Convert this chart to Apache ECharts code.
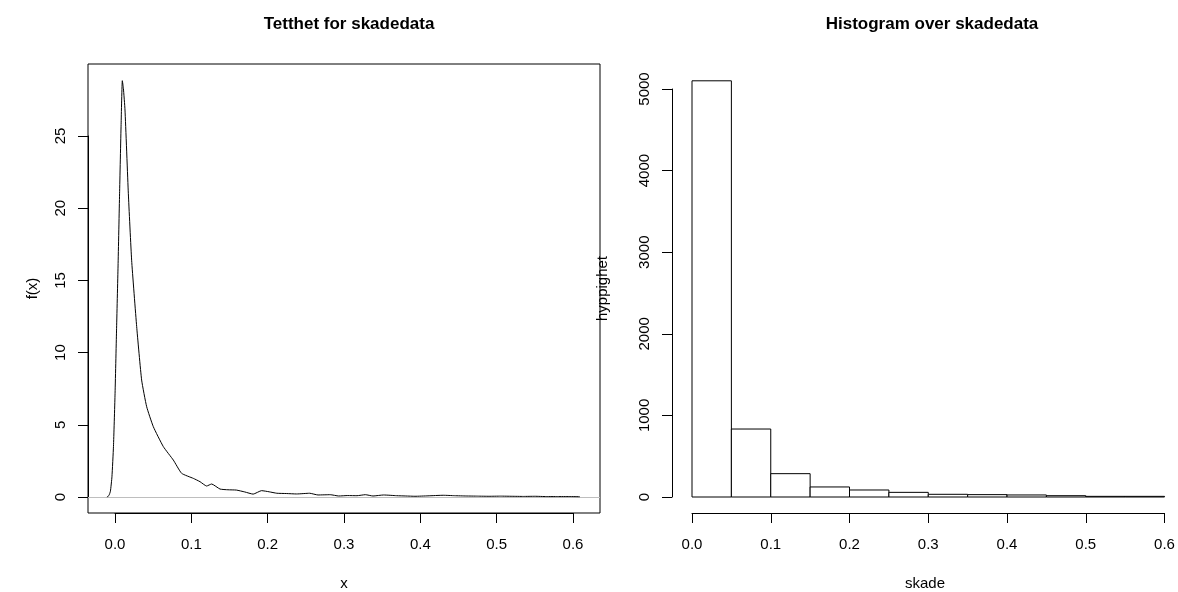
<!DOCTYPE html>
<html><head><meta charset="utf-8">
<script src="https://cdn.jsdelivr.net/npm/echarts@6/dist/echarts.min.js"></script>
<style>html,body{margin:0;padding:0;background:#fff}#c{width:1178px;height:592px}</style>
</head><body><div id="c"></div>
<script>
// ---- data ----
const densityX = [-0.0106, -0.008, -0.006, -0.004, -0.002, 0.000, 0.002, 0.004, 0.006, 0.008, 0.0096, 0.011, 0.0131, 0.0175, 0.0218, 0.0284, 0.0349, 0.0415, 0.0502, 0.0633, 0.0764, 0.0873, 0.1026, 0.1114, 0.120, 0.1266, 0.1376, 0.148, 0.159, 0.170, 0.181, 0.192, 0.202, 0.212, 0.225, 0.238, 0.255, 0.266, 0.282, 0.293, 0.305, 0.317, 0.328, 0.338, 0.352, 0.369, 0.381, 0.393, 0.41, 0.43, 0.445, 0.46, 0.475, 0.49, 0.505, 0.52, 0.535, 0.55, 0.565, 0.58, 0.595, 0.609];
const densityY = [0.0, 0.1, 0.4, 1.4, 3.5, 7.0, 11.5, 16.0, 21.0, 25.8, 28.83, 28.3, 26.8, 21.0, 16.4, 11.8, 8.1, 6.25, 4.87, 3.49, 2.56, 1.64, 1.29, 1.06, 0.76, 0.9, 0.55, 0.5, 0.48, 0.35, 0.2, 0.44, 0.36, 0.26, 0.24, 0.21, 0.26, 0.14, 0.16, 0.07, 0.1, 0.09, 0.16, 0.07, 0.14, 0.09, 0.07, 0.05, 0.08, 0.12, 0.09, 0.07, 0.06, 0.05, 0.06, 0.05, 0.04, 0.05, 0.03, 0.03, 0.03, 0.02];
const histBreaks = [0, 0.05, 0.1, 0.15, 0.2, 0.25, 0.3, 0.35, 0.4, 0.45, 0.5, 0.55, 0.6];
const histCounts = [5100, 833, 286, 123, 86, 57, 33, 29, 25, 16, 8, 8];
const densityTicksX = [0, 0.6, 0.1];
const densityTicksY = [0, 25, 5];
const histTicksX = [0, 0.6, 0.1];
const histTicksY = [0, 5000, 1000];
const titles = ['Tetthet for skadedata', 'Histogram over skadedata'];

const FONT = '"Liberation Sans", Arial, Helvetica, sans-serif';
const chart = echarts.init(document.getElementById('c'), null, {renderer: 'canvas'});

const densityData = densityX.map((x, i) => [x, densityY[i]]);
const histData = histCounts.map((c, i) => [histBreaks[i], histBreaks[i + 1], c]);

const hidden = {axisLine: {show: false}, axisTick: {show: false}, axisLabel: {show: false}, splitLine: {show: false}};
const nameStyle = {color: '#000', fontSize: 15, fontFamily: FONT};
const lblStyle = {color: '#000', fontSize: 15, fontFamily: FONT};
const axLine = {show: true, lineStyle: {color: '#000', width: 1}};
const axTick = {show: true, length: 10, inside: false, lineStyle: {color: '#000', width: 1}};
const G = {outerBoundsMode: 'none', containLabel: false};

function shownX(grid, t) {
  return {type: 'value', gridIndex: grid, min: t[0], max: t[1], interval: t[2],
    axisLine: axLine, axisTick: axTick, splitLine: {show: false},
    axisLabel: Object.assign({margin: 24, formatter: v => v.toFixed(1)}, lblStyle)};
}
function shownY(grid, t) {
  return {type: 'value', gridIndex: grid, min: t[0], max: t[1], interval: t[2],
    axisLine: axLine, axisTick: axTick, splitLine: {show: false},
    axisLabel: Object.assign({margin: 20, rotate: 90, formatter: v => String(v)}, lblStyle)};
}
function hid(grid, min, max, extra) {
  return Object.assign({type: 'value', gridIndex: grid, min: min, max: max}, hidden, extra || {});
}

const option = {
  animation: false,
  backgroundColor: '#fff',
  textStyle: {fontFamily: FONT},
  title: [
    {text: titles[0], left: 344, top: 11, textAlign: 'center',
     textStyle: {fontSize: 17, fontWeight: 'bold', color: '#000', fontFamily: FONT}},
    {text: titles[1], left: 927, top: 11, textAlign: 'center',
     textStyle: {fontSize: 17, fontWeight: 'bold', color: '#000', fontFamily: FONT}}
  ],
  grid: [
    // 0: left frame (box)
    Object.assign({left: 88, top: 64, width: 512, height: 449, show: true, borderColor: '#000', borderWidth: 1, backgroundColor: 'transparent'}, G),
    // 1: left x-axis grid (0..0.6 along box bottom)
    Object.assign({left: 115, top: 136, width: 458, height: 377}, G),
    // 2: left y-axis grid (0..25 along box left)
    Object.assign({left: 88, top: 136, width: 485, height: 361}, G),
    // 3: right frame
    Object.assign({left: 672, top: 64, width: 506, height: 449}, G),
    // 4: right x-axis grid
    Object.assign({left: 692, top: 89, width: 472.5, height: 424}, G),
    // 5: right y-axis grid
    Object.assign({left: 672, top: 89, width: 492.5, height: 408}, G)
  ],
  xAxis: [
    hid(0, -0.03537, 0.6354, {name: 'x', nameLocation: 'middle', nameGap: 63, nameTextStyle: nameStyle}),
    shownX(1, densityTicksX),
    hid(2, 0, 1),
    hid(3, -0.0254, 0.6171, {name: 'skade', nameLocation: 'middle', nameGap: 63, nameTextStyle: nameStyle}),
    shownX(4, histTicksX),
    hid(5, 0, 1)
  ],
  yAxis: [
    hid(0, -1.108, 29.986, {name: 'f(x)', nameLocation: 'middle', nameGap: 48, nameTextStyle: nameStyle}),
    hid(1, 0, 1),
    shownY(2, densityTicksY),
    hid(3, -196, 5306, {name: 'hyppighet', nameLocation: 'middle', nameGap: 62, nameTextStyle: nameStyle}),
    hid(4, 0, 1),
    shownY(5, histTicksY)
  ],
  series: [
    {type: 'line', xAxisIndex: 0, yAxisIndex: 0, data: densityData, showSymbol: false, smooth: 0.15,
     lineStyle: {color: '#000', width: 1}, z: 3, clip: false,
     markLine: {silent: true, symbol: 'none', label: {show: false},
       lineStyle: {color: '#bebebe', width: 1, type: 'solid'}, data: [{yAxis: 0}], z: 2}},
    {type: 'custom', xAxisIndex: 3, yAxisIndex: 3, data: histData, clip: false,
     encode: {x: [0, 1], y: 2},
     renderItem: function (params, api) {
       const p0 = api.coord([api.value(0), api.value(2)]);
       const p1 = api.coord([api.value(1), 0]);
       return {type: 'rect', shape: {x: p0[0], y: p0[1], width: p1[0] - p0[0], height: p1[1] - p0[1]},
               style: {fill: '#fff', stroke: '#000', lineWidth: 1}};
     }}
  ]
};
chart.setOption(option);
</script>
</body></html>
